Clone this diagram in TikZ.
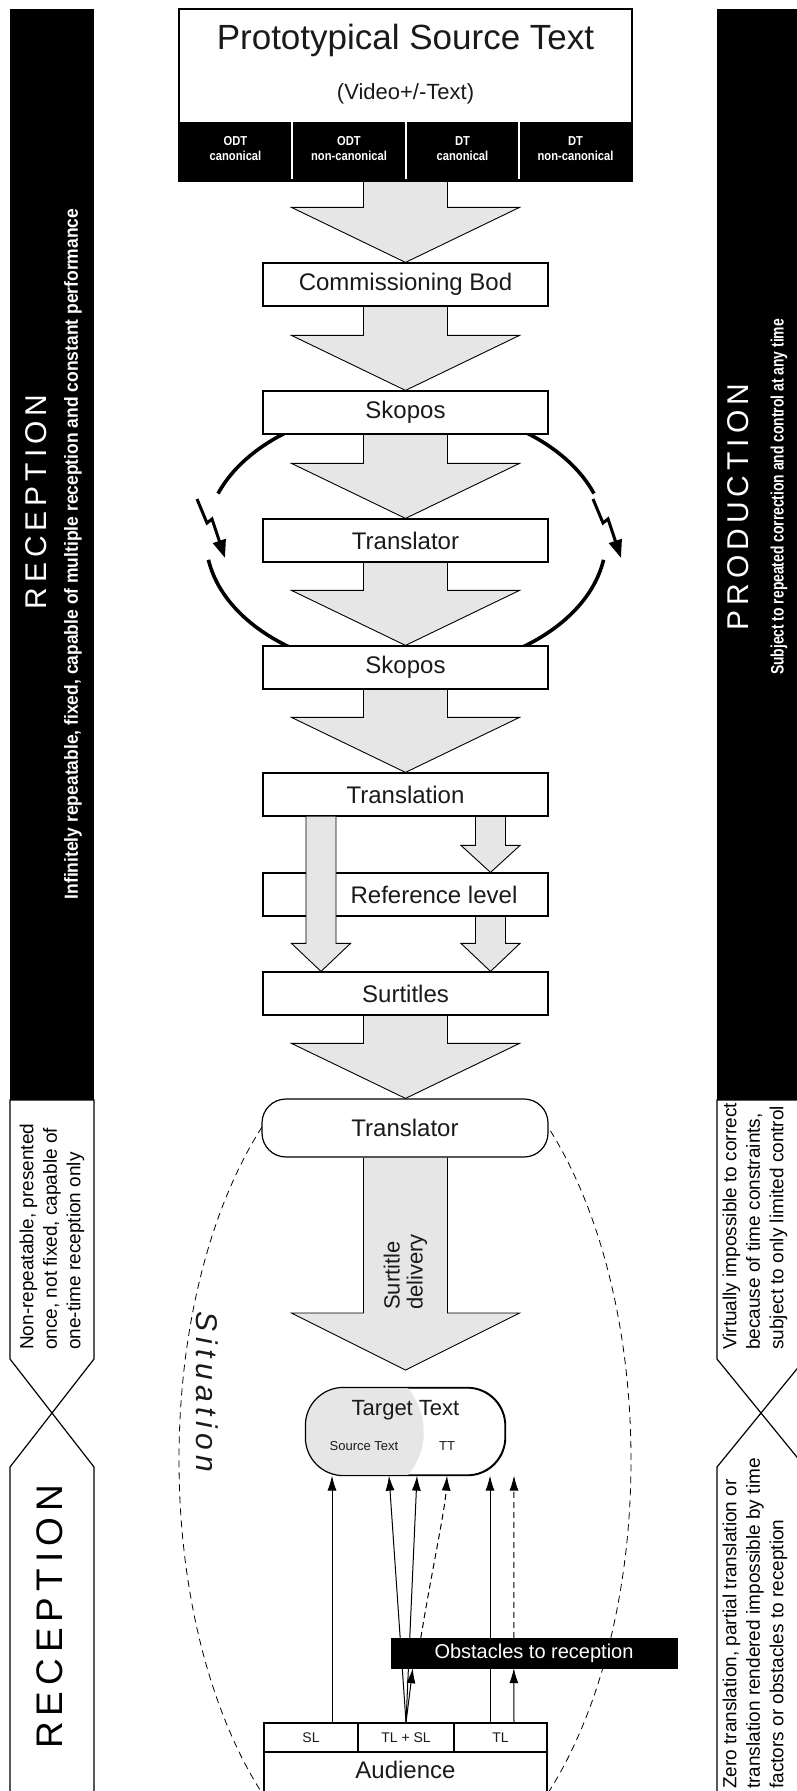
\documentclass[tikz,border=0pt]{standalone}
\usepackage{fontspec}
\setmainfont{Liberation Sans}
\newfontfamily\narrowfont[FakeStretch=0.83]{Liberation Sans}
\newfontfamily\subAfont[FakeStretch=0.92]{Liberation Sans Bold}
\newfontfamily\subBfont[FakeStretch=0.77]{Liberation Sans Bold}
\newfontfamily\cellfont[FakeStretch=0.86]{Liberation Sans Bold}
\usetikzlibrary{arrows.meta,calc}
\definecolor{agray}{HTML}{E6E6E6}
\definecolor{ink}{HTML}{1A1A1A}
\pgfdeclarelayer{bg}
\pgfsetlayers{bg,main}
\newcommand{\lsA}{\kern5pt}
\newcommand{\lsB}{\kern6pt}
\newcommand{\lsC}{\kern5.5pt}
% #1 x centre, #2 start coordinate, #3 tip coordinate, #4 shaft half width, #5 head half width, #6 head length
\newcommand{\blockarrow}[6]{%
  \filldraw[arrowst] let \p1=#2, \p2=#3 in
  (#1pt-#4pt,\y1) -- (#1pt-#4pt,\y2+#6pt) -- (#1pt-#5pt,\y2+#6pt) -- (#1pt,\y2)
  -- (#1pt+#5pt,\y2+#6pt) -- (#1pt+#4pt,\y2+#6pt) -- (#1pt+#4pt,\y1);}
\begin{document}
\begin{tikzpicture}[x=1pt,y=-1pt,
  box/.style={draw, line width=1.2pt, fill=white, minimum width=285pt, minimum height=43pt,
              inner sep=0pt, text=ink, font=\fontsize{24}{28}\selectfont},
  arrowst/.style={fill=agray, draw=black, line width=0.9pt, line join=miter},
  ringarc/.style={line width=3.6pt},
  uparrow/.style={line width=1pt, -{Latex[length=15pt,width=9pt]}},
  panel/.style={line width=1.2pt, fill=white},
  celltxt/.style={text=white, align=center, inner sep=0pt, font=\cellfont\fontsize{13}{15}\selectfont},
  audcell/.style={draw, line width=1.2pt, fill=white, minimum height=29pt, inner sep=0pt,
                  font=\fontsize{14}{14}\selectfont, text=ink},
  sidetxt/.style={rotate=90, inner sep=0pt, align=left, anchor=west,
                  font=\fontsize{19}{23.5}\selectfont},
]
\useasboundingbox (0,0) rectangle (796,1791);
\begin{pgfonlayer}{bg}\fill[white] (0,0) rectangle (796,1791);\end{pgfonlayer}

% ---------- side panels ----------
\fill[black] (10,9) rectangle (94,1100);
\fill[black] (717,9) rectangle (805,1100);
\draw[panel] (10,1100) -- (10,1359) -- (52,1413) -- (94,1359) -- (94,1100) -- cycle;
\draw[panel] (10,1800) -- (10,1467) -- (52,1413) -- (94,1467) -- (94,1800);
\draw[panel] (717,1100) -- (717,1359) -- (761,1413) -- (805,1359) -- (805,1100) -- cycle;
\draw[panel] (717,1800) -- (717,1467) -- (761,1413) -- (805,1467) -- (805,1800);

\node[rotate=90, text=white, inner sep=0pt, font=\fontsize{30}{30}\selectfont] (recA) at (36,502)
  {R\lsA E\lsA C\lsA E\lsA P\lsA T\lsA I\lsA O\lsA N};
\node[rotate=90, text=white, inner sep=0pt, font=\subAfont\fontsize{19}{19}\selectfont] (subA) at (73,554)
  {Infinitely repeatable, fixed, capable of multiple reception and constant performance};
\node[rotate=90, text=white, inner sep=0pt, font=\fontsize{30}{30}\selectfont] (prod) at (738,507)
  {P\lsA R\lsA O\lsA D\lsA U\lsA C\lsA T\lsA I\lsA O\lsA N};
\node[rotate=90, text=white, inner sep=0pt, font=\subBfont\fontsize{18}{18}\selectfont] (subB) at (779,497)
  {Subject to repeated correction and control at any time};

\node[sidetxt] (nonrep) at (52,1350)
  {Non-repeatable, presented\\once, not fixed, capable of\\one-time reception only};
\node[rotate=90, inner sep=0pt, font=\fontsize{37}{37}\selectfont] (recB) at (50,1617)
  {R\lsB E\lsB C\lsB E\lsB P\lsB T\lsB I\lsB O\lsB N};
\node[sidetxt] (virt) at (755,1350)
  {Virtually impossible to correct\\because of time constraints,\\subject to only limited control};
\node[sidetxt] (zero) at (755,1789)
  {Zero translation, partial translation or\\translation rendered impossible by time\\factors or obstacles to reception};

% ---------- top box ----------
\node[draw, line width=1.2pt, fill=white, minimum width=453pt, minimum height=171pt,
      inner sep=0pt, anchor=north] (pst) at (405.5,9) {};
\fill[black] ($(pst.south west)+(0,-59)$) rectangle (pst.south east);
\draw[line width=1.2pt] (pst.north west) rectangle (pst.south east);
\foreach \xx in {292,406,519} \draw[white, line width=1.2pt] (\xx,122) -- (\xx,179);
\node[text=ink, inner sep=0pt, font=\fontsize{35}{35}\selectfont] (psttitle) at (405.5,40) {Prototypical Source Text};
\node[text=ink, inner sep=0pt, font=\fontsize{22}{22}\selectfont] (video) at (405.5,94) {(Video+/-Text)};
\node[celltxt] (c1) at (235.5,149) {ODT\\canonical};
\node[celltxt] (c2) at (349,149) {ODT\\non-canonical};
\node[celltxt] (c3) at (462.5,149) {DT\\canonical};
\node[celltxt] (c4) at (575.5,149) {DT\\non-canonical};

% ---------- chain of boxes ----------
\node[box] (cb)  at (405.5,284.5) {Commissioning Bod};
\node[box] (sk1) at (405.5,412.5) {Skopos};
\node[box] (tr1) at (405.5,540.5) {Translator};
\node[box] (sk2) at (405.5,667.5) {Skopos};
\node[box] (tl)  at (405.5,794.5) {Translation};
\node[box] (ref) at (405.5,894.5) {};
\node[text=ink, inner sep=0pt, font=\fontsize{24}{28}\selectfont] (reftxt) at (434,894.5) {Reference level};
\node[box] (sur) at (405.5,993.5) {Surtitles};
\node[box, rounded corners=24pt, minimum width=286pt, minimum height=58pt] (tr2) at (405,1128) {Translator};

% thin arrow over the reference level box
\blockarrow{321}{(tl.south)}{(sur.north)}{15}{29.5}{28}

% surtitle delivery
\coordinate (sdtip) at (405.5,1370);
\node[rotate=90, anchor=west, align=left, inner sep=0pt, text=ink, font=\fontsize{22}{23}\selectfont]
  (sdtxt) at (405.5,1310) {Surtitle\\delivery};

% ---------- target text ----------
\node[draw, line width=1.2pt, fill=white, rounded corners=38pt, minimum width=199pt,
      minimum height=87pt, inner sep=0pt] (tt) at (405.5,1431.5) {};
\begin{scope}
  \clip[rounded corners=38pt] (tt.south west) rectangle (tt.north east);
  \fill[agray] (tt.north west) -- (408,1388) .. controls (429,1415) and (429,1450) .. (408,1475)
    -- (tt.south west) -- cycle;
\end{scope}
\draw[line width=1.2pt, rounded corners=38pt] (tt.south west) rectangle (tt.north east);
\node[text=ink, inner sep=0pt, font=\fontsize{22}{22}\selectfont] (tttitle) at (405.5,1410) {Target Text};
\node[text=ink, inner sep=0pt, font=\fontsize{13}{13}\selectfont] (ttsrc) at (364,1446) {Source Text};
\node[text=ink, inner sep=0pt, font=\fontsize{13}{13}\selectfont] (tttt) at (447,1446) {TT};

% situation
\node[rotate=-90, inner sep=0pt, text=ink, font=\itshape\fontsize{30}{30}\selectfont] (sit) at (207,1392)
  {S\lsC i\lsC t\lsC u\lsC a\lsC t\lsC i\lsC o\lsC n};

% obstacles and audience
\node[fill=black, draw=black, minimum width=286pt, minimum height=30pt, inner sep=0pt,
      text=white, font=\fontsize{20}{20}\selectfont] (obs) at (534,1653) {Obstacles to reception};
\node[audcell, minimum width=94pt] (sl) at (311,1737.5) {SL};
\node[audcell, minimum width=96pt] (tlsl) at (406,1737.5) {TL + SL};
\node[audcell, minimum width=93pt] (tlc) at (500.5,1737.5) {TL};
\node[draw, line width=1.2pt, fill=white, minimum width=283pt, minimum height=50pt, inner sep=0pt,
      anchor=north] (aud) at (405.5,1752) {};
\node[text=ink, inner sep=0pt, font=\fontsize{24}{24}\selectfont] (audtxt) at (405.5,1770) {Audience};

% lightning arrows
\draw[line width=3pt, line join=miter, -{Triangle[length=18pt,width=13pt]}]
  (197,499) -- (207,523) -- (212,519) -- (225,558);
\draw[line width=3pt, line join=miter, -{Triangle[length=18pt,width=13pt]}]
  (593,499) -- (603,523) -- (608,519) -- (621,558);

% ---------- background layer ----------
\begin{pgfonlayer}{bg}
  \begin{scope}
    \clip (0,1120) rectangle (796,1791);
    \draw[line width=0.8pt, dash pattern=on 7pt off 5pt] (405,1460) ellipse [x radius=226pt, y radius=430pt];
  \end{scope}
  \draw[ringarc] plot[domain=120:160, samples=40, smooth] ({406+200*cos(\x)}, {539-133*sin(\x)});
  \draw[ringarc] plot[domain=189:238, samples=40, smooth] ({406+200*cos(\x)}, {539-133*sin(\x)});
  \draw[ringarc] plot[domain=20:60, samples=40, smooth] ({406+200*cos(\x)}, {539-133*sin(\x)});
  \draw[ringarc] plot[domain=-58:-9, samples=40, smooth] ({406+200*cos(\x)}, {539-133*sin(\x)});

  \blockarrow{405.5}{(pst.south)}{(cb.north)}{42}{114}{55}
  \blockarrow{405.5}{(cb.south)}{(sk1.north)}{42}{114}{55}
  \blockarrow{405.5}{(sk1.south)}{(tr1.north)}{42}{114}{55}
  \blockarrow{405.5}{(tr1.south)}{(sk2.north)}{42}{114}{55}
  \blockarrow{405.5}{(sk2.south)}{(tl.north)}{42}{114}{55}
  \blockarrow{490.5}{(tl.south)}{(ref.north)}{15}{29.5}{27}
  \blockarrow{490.5}{(ref.south)}{(sur.north)}{15}{29.5}{28}
  \blockarrow{405.5}{(sur.south)}{(tr2.north)}{42}{114}{55}
  \blockarrow{405.5}{(tr2.south)}{(sdtip)}{42}{114}{57}

  \draw[uparrow] ($(sl.north)+(21,0)$) -- ($(tt.south)+(-73.5,0)$);
  \draw[uparrow] (tlsl.north) -- ($(tt.south)+(-16.5,0)$);
  \draw[uparrow] (tlsl.north) -- ($(tt.south)+(11.5,0)$);
  \draw[uparrow] (tlsl.north) -- ($(obs.south west)+(22,0)$);
  \draw[uparrow, dash pattern=on 6pt off 4pt] ($(obs.north west)+(30,0)$) .. controls (432,1570) and (445,1510) .. ($(tt.south)+(41.5,0)$);
  \draw[uparrow] ($(tlc.north)+(-10.5,0)$) -- ($(tt.south)+(84.5,0)$);
  \draw[uparrow] ($(tlc.north)+(13.5,0)$) -- ($(obs.south west)+(123,0)$);
  \draw[uparrow, dash pattern=on 6pt off 4pt] ($(obs.north west)+(123,0)$) -- ($(tt.south)+(108.5,0)$);
\end{pgfonlayer}
\end{tikzpicture}
\end{document}
